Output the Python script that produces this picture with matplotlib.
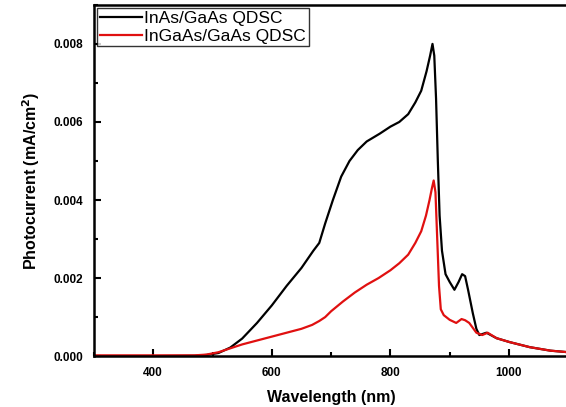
import numpy as np
import matplotlib
matplotlib.use("Agg")
import matplotlib.pyplot as plt
from matplotlib.ticker import MultipleLocator, FormatStrFormatter

plt.rcParams["font.family"] = ["Liberation Sans", "DejaVu Sans"]

# 读图估计的光电流谱 (nm, mA/cm^2)
wl_inas = [300, 400, 470, 490, 510, 530, 550, 575, 600, 625, 650, 670, 680, 690, 703,
           717, 731, 745, 760, 782, 800, 815, 830, 842, 852, 861, 867, 871, 874, 877,
           880, 883, 887, 893, 900, 908, 915, 921, 926, 931, 939, 945, 950, 962, 979,
           1001, 1035, 1070, 1100]
pc_inas = [0.0, 0.0, 0.00001, 0.00003, 0.00008, 0.00022, 0.00045, 0.00085, 0.0013, 0.0018,
           0.00226, 0.0027, 0.0029, 0.0034, 0.0040, 0.0046, 0.0050, 0.00528, 0.0055, 0.0057,
           0.00588, 0.0060, 0.0062, 0.0065, 0.0068, 0.0073, 0.0077, 0.0080, 0.0077, 0.0066,
           0.0050, 0.0036, 0.0027, 0.0021, 0.0019, 0.0017, 0.0019, 0.0021, 0.00205, 0.0017,
           0.0011, 0.0007, 0.00054, 0.0006, 0.00046, 0.00036, 0.00023, 0.00014, 0.0001]

wl_ingaas = [300, 400, 470, 490, 510, 530, 550, 575, 600, 625, 650, 668, 680, 690, 700,
             720, 740, 760, 780, 800, 815, 830, 842, 852, 860, 866, 870, 873, 876, 879,
             882, 885, 890, 900, 911, 920, 926, 933, 945, 955, 964, 979, 1001, 1035, 1070,
             1100]
pc_ingaas = [0.00002, 0.00002, 0.00002, 0.00004, 0.0001, 0.0002, 0.0003, 0.0004, 0.0005,
             0.0006, 0.0007, 0.0008, 0.0009, 0.001, 0.00115, 0.0014, 0.00163, 0.00183, 0.002,
             0.0022, 0.00238, 0.0026, 0.0029, 0.0032, 0.0036, 0.0040, 0.0043, 0.0045, 0.0042,
             0.0030, 0.0018, 0.0012, 0.00105, 0.00093, 0.00085, 0.00095, 0.00092, 0.00085,
             0.0006, 0.00054, 0.0006, 0.00046, 0.00036, 0.00023, 0.00014, 0.0001]

fig = plt.figure(figsize=(5.66, 4.07), dpi=100)
ax = fig.add_axes([0.166, 0.125, 0.838, 0.863])
ax.plot(wl_inas, pc_inas, color="black", lw=1.6, label="InAs/GaAs QDSC")
ax.plot(wl_ingaas, pc_ingaas, color="#e01010", lw=1.6, label="InGaAs/GaAs QDSC")

ax.set_xlim(300, 1100)
ax.set_ylim(0, 0.009)
ax.xaxis.set_major_locator(MultipleLocator(200))
ax.xaxis.set_minor_locator(MultipleLocator(100))
ax.yaxis.set_major_locator(MultipleLocator(0.002))
ax.yaxis.set_minor_locator(MultipleLocator(0.001))
ax.yaxis.set_major_formatter(FormatStrFormatter("%.3f"))
ax.tick_params(which="both", direction="in", width=1.5, labelsize=8.5, pad=8)
ax.tick_params(which="major", length=5)
ax.tick_params(which="minor", length=3)
for lab in ax.get_xticklabels() + ax.get_yticklabels():
    lab.set_fontweight("bold")
for s in ax.spines.values():
    s.set_linewidth(1.8)

ax.set_xlabel("Wavelength (nm)", fontsize=11.5, fontweight="bold", labelpad=8)
ax.set_ylabel("Photocurrent (mA/cm$^\\mathbf{2}$)", fontsize=11.5, fontweight="bold", labelpad=8)

leg = ax.legend(loc="upper left", fontsize=12.5, frameon=True, fancybox=False,
                borderaxespad=0.2, handlelength=2.4, handletextpad=0.15,
                borderpad=0.15, labelspacing=0.15)
leg.get_frame().set_edgecolor("black")
leg.get_frame().set_linewidth(1.0)

fig.savefig("out.png", dpi=100)
